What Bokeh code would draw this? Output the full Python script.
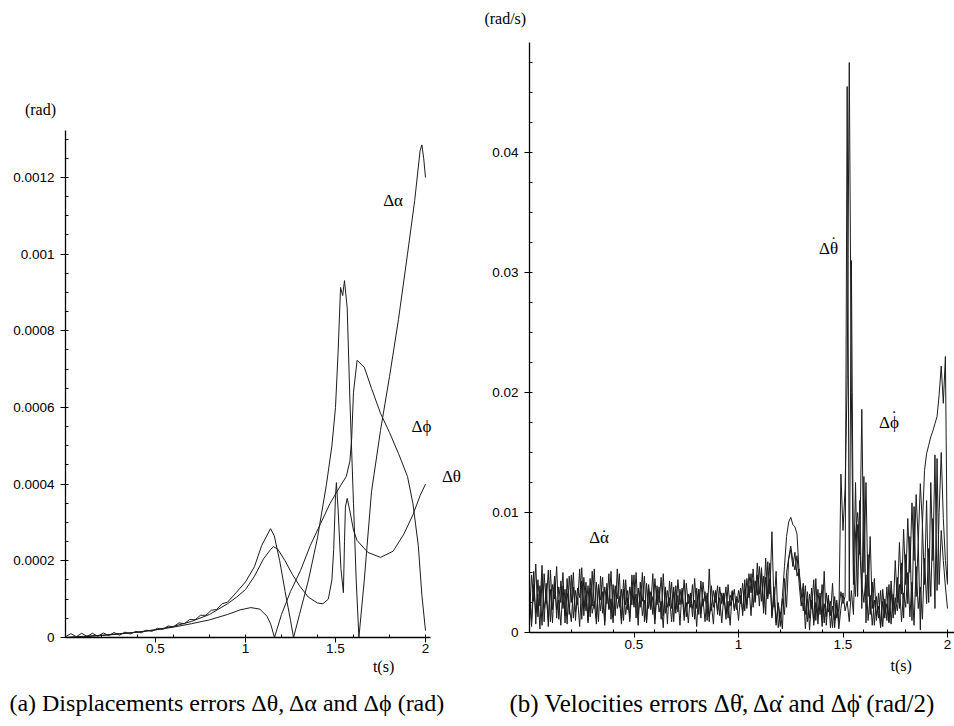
from bokeh.plotting import figure
from bokeh.layouts import row
from bokeh.models import Range1d, FixedTicker, Label
from bokeh.embed import file_html
from bokeh.resources import INLINE

# ---------------- (a) displacement errors, values in 1e-6 rad ----------------
t_alpha = [0.00, 0.03, 0.06, 0.09, 0.12, 0.15, 0.18, 0.21, 0.24, 0.27, 0.30, 0.33,
           0.36, 0.39, 0.42, 0.45, 0.48, 0.51, 0.54, 0.57, 0.60, 0.63, 0.66, 0.69,
           0.72, 0.75, 0.78, 0.81, 0.84, 0.87, 0.90, 0.95, 1.00, 1.05, 1.09, 1.139,
           1.16, 1.19, 1.22, 1.25, 1.267, 1.30, 1.35, 1.40, 1.45, 1.48, 1.50, 1.515,
           1.528, 1.54, 1.55, 1.565, 1.58, 1.60, 1.615, 1.63, 1.66, 1.70, 1.75, 1.80,
           1.85, 1.90, 1.94, 1.97, 1.98, 1.99, 2.00]
d_alpha = [2, 10, 2, 11, 3, 11, 3, 12, 5, 13, 6, 14,
           9, 16, 12, 19, 16, 24, 21, 30, 28, 38, 36, 47,
           46, 58, 58, 71, 73, 88, 92, 118, 145, 185, 240, 284,
           265, 200, 120, 45, 0, 60, 150, 260, 400, 500, 600, 750,
           913, 892, 931, 860, 620, 350, 150, 0, 150, 380, 540, 680,
           830, 1000, 1140, 1270, 1285, 1250, 1200]

t_theta = [0.00, 0.10, 0.20, 0.30, 0.40, 0.50, 0.60, 0.70, 0.80, 0.90, 0.95, 1.00,
           1.05, 1.10, 1.14, 1.156, 1.18, 1.22, 1.26, 1.30, 1.35, 1.40, 1.43, 1.46,
           1.48, 1.49, 1.50, 1.505, 1.515, 1.53, 1.544, 1.55, 1.555, 1.565, 1.58,
           1.60, 1.62, 1.68, 1.75, 1.82, 1.88, 1.93, 1.97, 2.00]
d_theta = [0, 3, 6, 10, 14, 20, 29, 42, 60, 88, 105, 125,
           160, 205, 230, 237, 230, 200, 165, 135, 105, 90, 88, 100,
           150, 230, 370, 404, 330, 180, 117, 250, 340, 363, 330,
           280, 253, 222, 209, 225, 270, 320, 370, 400]

t_phi = [0.00, 0.10, 0.20, 0.30, 0.40, 0.50, 0.60, 0.70, 0.80, 0.90, 0.97, 1.03,
         1.08, 1.12, 1.14, 1.161, 1.20, 1.25, 1.306, 1.36, 1.417, 1.47, 1.52, 1.56,
         1.58, 1.59, 1.60, 1.62, 1.66, 1.70, 1.75, 1.80, 1.85, 1.90, 1.93, 1.96,
         1.98, 2.00]
d_phi = [0, 2, 5, 9, 14, 20, 27, 36, 46, 60, 72, 78,
         74, 55, 35, 0, 60, 120, 175, 240, 297, 350, 390, 420,
         460, 520, 640, 723, 705, 650, 585, 535, 480, 420, 350, 240,
         110, 18]

left_yticks = [0, 0.0002, 0.0004, 0.0006, 0.0008, 0.001, 0.0012]
left_ylabels = ["0", "0.0002", "0.0004", "0.0006", "0.0008", "0.001", "0.0012"]
xticks = [0.5, 1, 1.5, 2]
xlabels = ["0.5", "1", "1.5", "2"]

# ---------------- (b) velocity errors, values in 1e-3 rad/s, step 0.01 s ----------------
v_theta = [
    3.2, 1.0, 5.1, 0.7, 4.4, 2.2, 5.6, 0.9, 4.1, 0.5,
    5.2, 1.9, 4.7, 1.2, 3.8, 2.5, 5.0, 0.8, 4.5, 1.5,
    4.8, 1.2, 3.5, 2.3, 5.3, 1.1, 4.6, 1.8, 3.9, 1.3,
    5.1, 2.0, 4.2, 0.9, 4.7, 1.6, 3.8, 2.4, 4.9, 1.1,
    4.0, 1.4, 5.3, 2.1, 3.6, 1.0, 4.4, 1.9, 3.8, 2.3,
    4.8, 1.2, 3.7, 2.1, 5.0, 0.9, 4.1, 2.0, 3.4, 1.5,
    4.5, 2.3, 3.8, 1.1, 4.9, 1.6, 3.5, 2.2, 4.2, 0.9,
    3.9, 1.7, 3.6, 2.4, 4.4, 1.3, 3.2, 2.1, 4.0, 1.1,
    3.7, 1.5, 4.3, 2.2, 3.4, 1.0, 5.3, 1.8, 3.5, 2.5,
    3.9, 1.4, 3.3, 2.3, 3.8, 1.2, 3.1, 2.7, 3.6, 1.9,
    3.5, 2.4, 4.1, 1.8, 4.5, 2.9, 4.9, 2.1, 4.3, 3.1,
    5.5, 2.6, 4.7, 1.5, 5.9, 3.2, 8.4, 2.1, 5.1, 0.4,
    1.7, 0.3, 4.5, 2.1, 6.1, 6.9, 5.5, 6.7, 4.7, 5.3,
    2.9, 4.1, 1.5, 3.4, 0.2, 2.7, 0.9, 4.5, 0.7, 3.3,
    1.1, 5.1, 0.6, 2.9, 1.4, 4.1, 0.4, 2.5, 0.9, 13.2,
    8.5, 12.0, 21.0, 47.5, 20.0, 4.0, 12.5, 3.0, 11.0, 2.0,
    13.0, 0.8, 6.5, 1.5, 4.2, 0.6, 3.0, 1.2, 3.5, 0.5,
    2.8, 1.0, 4.0, 0.7, 3.2, 1.5, 4.6, 2.0, 5.8, 1.2,
    6.5, 2.4, 8.0, 1.0, 10.5, 3.0, 7.5, 0.2, 9.0, 4.0,
    11.0, 2.5, 12.5, 6.0, 14.8, 3.5, 10.0, 15.0, 9.5, 6.0,
    4.0]
v_phi = [
    1.5, 4.8, 2.6, 5.7, 1.3, 3.9, 0.6, 4.9, 2.4, 5.2,
    0.9, 4.0, 2.8, 5.5, 1.1, 4.3, 2.0, 3.6, 0.7, 4.7,
    2.5, 5.0, 1.0, 3.7, 2.9, 5.4, 1.4, 4.2, 0.8, 4.5,
    2.2, 5.3, 1.2, 3.8, 2.7, 4.6, 0.9, 4.1, 2.0, 5.1,
    1.3, 3.6, 2.8, 4.9, 1.0, 4.4, 2.3, 3.5, 1.2, 4.8,
    2.1, 5.0, 1.5, 3.4, 2.6, 4.7, 0.8, 4.0, 2.2, 4.9,
    1.1, 3.9, 2.5, 4.6, 1.4, 3.7, 0.7, 4.3, 2.0, 3.8,
    1.6, 4.4, 2.3, 3.5, 1.0, 4.1, 2.4, 3.3, 1.3, 4.5,
    2.0, 3.6, 1.2, 4.2, 2.6, 3.1, 0.9, 3.9, 2.1, 3.4,
    1.5, 3.8, 2.4, 3.3, 1.1, 4.0, 2.2, 3.5, 1.8, 3.0,
    2.5, 3.7, 1.4, 4.4, 2.0, 4.9, 3.3, 5.3, 2.6, 5.8,
    3.2, 5.4, 2.0, 6.2, 2.8, 4.5, 1.4, 3.8, 0.8, 2.5,
    1.2, 3.0, 5.5, 8.0, 9.2, 9.6, 9.0, 8.8, 8.2, 5.0,
    3.4, 1.8, 3.9, 0.9, 3.2, 2.0, 4.4, 1.0, 3.6, 1.5,
    4.0, 0.8, 3.3, 1.7, 2.6, 0.4, 3.0, 1.2, 2.0, 3.4,
    2.4, 3.0, 45.5, 2.6, 31.0, 5.2, 3.0, 9.0, 6.5, 18.6,
    5.0, 12.5, 3.0, 8.0, 2.0, 4.5, 1.0, 3.3, 0.5, 2.6,
    1.2, 3.8, 0.9, 4.3, 1.8, 6.0, 2.5, 7.5, 3.2, 8.6,
    4.0, 9.5, 5.0, 10.8, 6.0, 11.5, 7.5, 12.4, 9.0, 13.5,
    14.9, 15.6, 16.3, 16.8, 17.4, 18.0, 19.8, 22.2, 19.1, 23.0,
    4.2]
v_alpha = [
    2.8, 0.5, 4.0, 1.6, 3.2, 0.3, 4.5, 2.0, 3.0, 1.0,
    3.6, 0.8, 4.1, 1.9, 2.7, 0.6, 3.9, 1.4, 3.3, 2.2,
    0.9, 3.8, 1.7, 2.9, 0.5, 4.3, 2.1, 3.1, 1.0, 3.7,
    1.6, 2.6, 0.7, 4.0, 1.8, 3.4, 0.6, 3.5, 1.9, 2.8,
    0.8, 3.9, 2.0, 3.0, 0.7, 3.6, 1.5, 2.9, 0.9, 3.8,
    2.3, 3.2, 0.6, 4.2, 1.4, 2.7, 0.8, 3.6, 1.9, 3.0,
    0.7, 3.5, 1.7, 2.6, 0.4, 3.8, 2.1, 2.9, 0.9, 3.4,
    1.9, 3.1, 0.6, 3.7, 1.5, 2.5, 0.8, 3.2, 2.0, 2.7,
    0.5, 3.6, 1.6, 2.8, 0.9, 3.3, 1.3, 2.4, 0.7, 3.5,
    1.8, 2.9, 0.8, 3.2, 1.5, 2.6, 0.6, 3.4, 2.0, 2.8,
    1.0, 3.1, 1.7, 3.6, 2.3, 3.9, 1.4, 4.4, 2.5, 4.8,
    2.2, 5.0, 1.6, 4.6, 3.0, 5.8, 1.2, 3.2, 0.6, 2.4,
    0.5, 2.8, 1.5, 5.0, 6.2, 7.2, 6.0, 5.2, 6.4, 4.1,
    2.2, 3.6, 0.3, 2.8, 1.2, 3.7, 0.6, 2.5, 1.6, 3.0,
    0.5, 2.4, 1.3, 3.1, 0.4, 2.2, 1.0, 2.7, 0.3, 2.0,
    3.3, 1.8, 2.6, 0.9, 3.5, 1.5, 8.2, 10.0, 7.0, 4.0,
    2.5, 4.8, 1.0, 3.1, 0.6, 2.7, 1.4, 2.2, 0.4, 3.6,
    1.5, 2.4, 0.8, 3.5, 1.2, 2.9, 1.8, 4.0, 0.9, 3.3,
    2.1, 5.0, 1.3, 4.2, 0.6, 5.5, 2.0, 3.8, 1.1, 6.2,
    2.4, 7.0, 3.0, 9.5, 2.0, 14.5, 4.0, 8.5, 6.0, 3.8,
    2.0]
t_vel = [i / 100 for i in range(len(v_theta))]

right_yticks = [0, 0.01, 0.02, 0.03, 0.04]
right_ylabels = ["0", "0.01", "0.02", "0.03", "0.04"]

SERIF = "Liberation Serif"
SANS = "Liberation Sans"
LINE = "#1c1c1c"


def style(p, yb, xb, yticks, ylabels, yminor, xminor):
    p.grid.visible = False
    p.outline_line_color = None
    p.background_fill_color = "white"
    p.border_fill_color = "white"
    for ax in (p.xaxis[0], p.yaxis[0]):
        ax.fixed_location = 0
        ax.axis_line_color = "black"
        ax.axis_line_width = 1.3
        ax.major_tick_line_color = "black"
        ax.minor_tick_line_color = "black"
        ax.major_tick_in = 0
        ax.major_tick_out = 5
        ax.minor_tick_in = 3
        ax.minor_tick_out = 0
        ax.major_label_text_font = SANS
        ax.major_label_text_font_size = "13.5px"
        ax.major_label_text_color = "black"
    p.xaxis.ticker = FixedTicker(ticks=xticks, minor_ticks=xminor)
    p.xaxis.major_label_overrides = dict(zip(xticks, xlabels))
    p.xaxis.major_label_standoff = 2
    p.xaxis.bounds = xb
    p.yaxis.ticker = FixedTicker(ticks=yticks, minor_ticks=yminor)
    p.yaxis.major_label_overrides = dict(zip(yticks, ylabels))
    p.yaxis.major_label_standoff = 6
    p.yaxis.bounds = yb


def lab(p, x, y, text, size, font=SERIF, xo=0, yo=0):
    p.add_layout(Label(x=x, y=y, text=text, text_font=font, text_font_size=size,
                       text_align="center", text_baseline="middle", text_color="black",
                       x_offset=xo, y_offset=yo))


# ---------------- left figure (frame covers the whole canvas) ----------------
p1 = figure(width=466, height=726,
            x_range=Range1d(-0.3611, 2.2278), y_range=Range1d(-0.00023217, 0.0016617),
            output_backend="svg", toolbar_location=None, min_border=0)
for tt, dd in ((t_alpha, d_alpha), (t_theta, d_theta), (t_phi, d_phi)):
    p1.line(tt, [v * 1e-6 for v in dd], line_color=LINE, line_width=1)
style(p1, (0, 0.001323), (0, 2.03), left_yticks, left_ylabels,
      [i * 0.00005 for i in range(1, 27)], [i * 0.2 for i in range(1, 11)])
lab(p1, -0.139, 0.001377, "(rad)", "16px")
lab(p1, 1.82, 0.00114, "Δα", "17px")
lab(p1, 1.978, 0.00055, "Δϕ", "17px")
lab(p1, 2.144, 0.00042, "Δθ", "17px")
lab(p1, 1.767, -0.0000757, "t(s)", "16px")
lab(p1, 0.90, -0.000172, "(a) Displacements errors Δθ, Δα and Δϕ (rad)", "24px")

# ---------------- right figure ----------------
p2 = figure(width=488, height=726,
            x_range=Range1d(-0.30144, 2.03349), y_range=Range1d(-0.0078333, 0.052667),
            output_backend="svg", toolbar_location=None, min_border=0)
for vv in (v_alpha, v_phi, v_theta):
    p2.line(t_vel, [v * 1e-3 for v in vv], line_color=LINE, line_width=1)
style(p2, (0, 0.0492), (0, 2.03349), right_yticks, right_ylabels,
      [i * 0.0025 for i in range(1, 20)], [i * 0.2 for i in range(1, 11)])
lab(p2, -0.116, 0.05117, "(rad/s)", "16px")
for (lx, ly, txt, dy) in ((1.431, 0.032, "Δθ", 6), (1.72, 0.0175, "Δϕ", 6), (0.333, 0.0079, "Δα", 2)):
    lab(p2, lx, ly, txt, "17px")
    lab(p2, lx, ly, "˙", "17px", xo=5, yo=dy)
lab(p2, 1.778, -0.00275, "t(s)", "16px")
lab(p2, 0.925, -0.0059, "(b) Velocities errors Δθ̇, Δα̇ and Δϕ̇ (rad/2)", "25px")

layout = row(p1, p2, spacing=0)
open("out.html", "w").write(file_html(layout, INLINE))
